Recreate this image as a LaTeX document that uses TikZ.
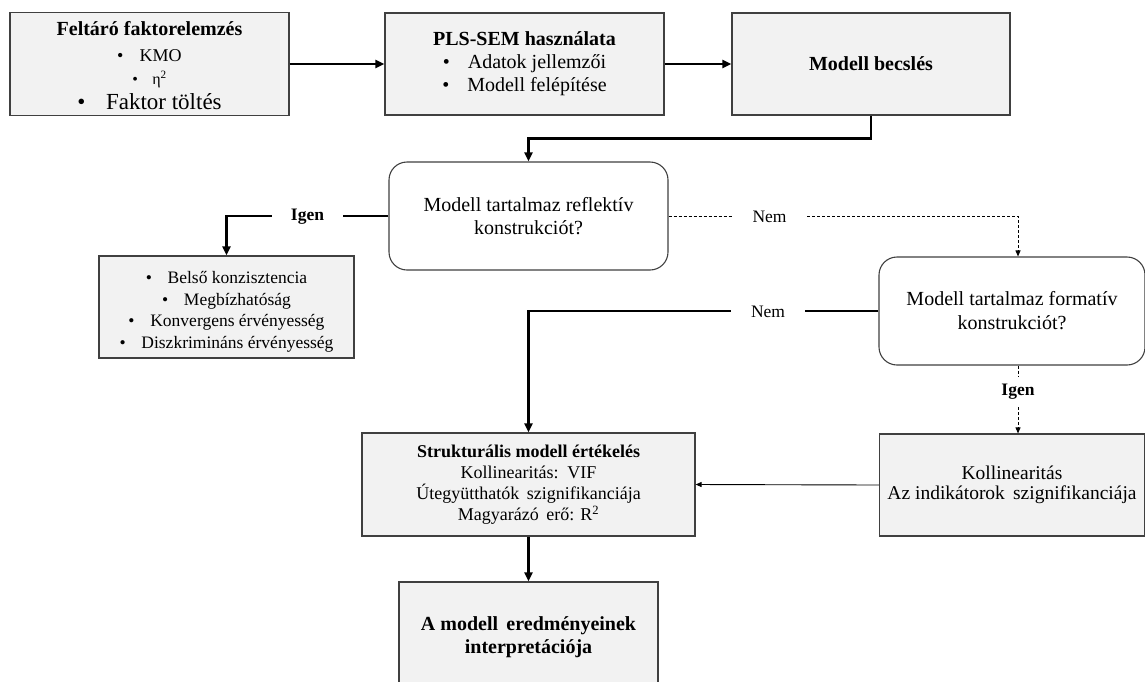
\documentclass[tikz,border=0pt]{standalone}
\usepackage{fontspec}
\setmainfont{Liberation Serif}
\usetikzlibrary{arrows.meta}
\definecolor{boxfill}{HTML}{F2F2F2}
\definecolor{boxline}{HTML}{404040}
\newcommand\fsz[2]{\fontsize{#1}{#2}\selectfont}
\newcommand\bul{\textbullet\hspace{0.9em}}
\tikzset{
  gbox/.style={draw=boxline, line width=1.2pt, fill=boxfill, align=center, inner sep=0pt},
  rbox/.style={draw=boxline, line width=1.1pt, fill=white, rounded corners=18pt, align=center, inner sep=0pt},
  thk/.style={line width=2.6pt, draw=black},
  thkarr/.style={thk, -{Triangle[length=9pt,width=8pt]}},
  thinarr/.style={line width=0.9pt, -{Triangle[length=6pt,width=5pt]}},
  dsh/.style={line width=0.9pt, dash pattern=on 3pt off 2pt},
  dsharr/.style={dsh, -{Triangle[length=6pt,width=5pt]}},
  lbl/.style={inner sep=0pt, font=\fsz{17.5}{20}},
  lblb/.style={inner sep=0pt, font=\fsz{17.5}{20}\bfseries},
}
\begin{document}
\begin{tikzpicture}[x=1pt,y=-1pt]
\useasboundingbox (0,0) rectangle (1145,681);
\clip (0,0) rectangle (1145,681);
\fill[white] (0,0) rectangle (1145,681);

\node[gbox, minimum width=279pt, minimum height=103pt, font=\fsz{20}{24}] (b1) at (149.5,64)
  {\rule{0pt}{17pt}\textbf{Feltáró faktorelemzés}\\[2pt]
   \fsz{18}{24}\bul KMO\\[-1pt]
   \fsz{16}{24}\bul η\textsuperscript{2}\\[1pt]
   \fsz{23}{24}\bul Faktor töltés};
\node[gbox, minimum width=279pt, minimum height=102pt, font=\fsz{20}{23}] (b2) at (524.5,64)
  {\textbf{PLS-SEM használata}\\
   \bul Adatok jellemzői\\
   \bul Modell felépítése};
\node[gbox, minimum width=278pt, minimum height=102pt, font=\fsz{20}{23}] (b3) at (871,64)
  {\textbf{Modell becslés}};
\node[rbox, minimum width=279pt, minimum height=108pt, font=\fsz{20}{23}] (r1) at (528.5,216)
  {Modell tartalmaz reflektív\\ konstrukciót?};
\node[rbox, minimum width=266pt, minimum height=108pt, font=\fsz{20}{24}] (r2) at (1012,311)
  {Modell tartalmaz formatív\\ konstrukciót?};
\node[gbox, minimum width=255pt, minimum height=102pt, font=\fsz{17.5}{21.5}] (b4) at (226.5,307)
  {\rule{0pt}{22pt}\bul Belső konzisztencia\\
   \bul Megbízhatóság\\
   \bul Konvergens érvényesség\\
   \bul Diszkrimináns érvényesség};
\node[gbox, minimum width=333pt, minimum height=103pt, font=\fsz{18}{21}] (s) at (528.5,484.5)
  {\textbf{Strukturális modell értékelés}\\
   Kollinearitás:\, VIF\\
   Útegyütthatók\, szignifikanciája\\
   Magyarázó\, erő: R\textsuperscript{2}};
\node[gbox, minimum width=265pt, minimum height=102pt, font=\fsz{19.5}{19.5}] (ind) at (1012,485)
  {Kollinearitás\\ Az indikátorok\, szignifikanciája};
\node[gbox, minimum width=259pt, minimum height=110pt, font=\fsz{20}{23}\bfseries] (fin) at (528.5,637)
  {A modell\, eredményeinek\\ interpretációja};

\node[lblb, minimum width=71pt] (ig1) at (307.5,217) {Igen};
\node[lbl, minimum width=75pt] (n1) at (769.5,217) {Nem};
\node[lbl, minimum width=74pt] (n2) at (768,312) {Nem};
\node[lblb, minimum height=30pt] (ig2) at (1018,392) {Igen};

\draw[thkarr] (b1.east) -- (b2.west);
\draw[thkarr] (b2.east) -- (b3.west);
\draw[thkarr] (b3.south) -- ++(0,23) -| (r1.north);
\draw[thk] (r1.west) -- (r1.west -| ig1.east);
\draw[thkarr] (r1.west -| ig1.west) -| (b4.north);
\draw[dsh] (r1.east) -- (r1.east -| n1.west);
\draw[dsharr] (r1.east -| n1.east) -| ([xshift=6pt]r2.north);
\draw[thk] (r2.west) -- (r2.west -| n2.east);
\draw[thkarr] (r2.west -| n2.west) -| (s.north);
\draw[dsh] ([xshift=6pt]r2.south) -- (ig2.north);
\draw[dsharr] (ig2.south) -- (ig2.south |- ind.north);
\draw[thinarr] (ind.west) -- (s.east);
\draw[thkarr] (s.south) -- (fin.north);
\end{tikzpicture}
\end{document}
